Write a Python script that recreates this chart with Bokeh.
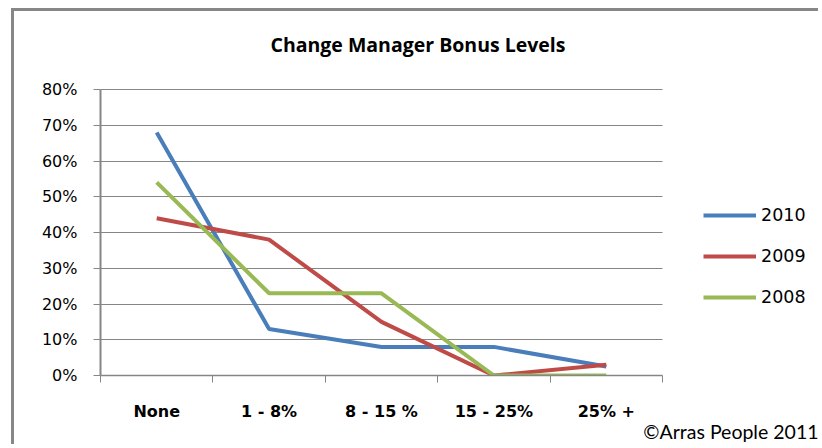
from bokeh.plotting import figure
from bokeh.models import (FixedTicker, NumeralTickFormatter, Legend, LegendItem, Title, Label,
                          ColumnDataSource, BoxAnnotation)
from bokeh.embed import file_html
from bokeh.resources import INLINE

categories = ["None", "1 - 8%", "8 - 15 %", "15 - 25%", "25% +"]
years = ["2010", "2009", "2008"]
y2010 = [0.68, 0.13, 0.08, 0.08, 0.025]
y2009 = [0.44, 0.38, 0.15, 0.0, 0.03]
y2008 = [0.54, 0.23, 0.23, 0.0, 0.0]
y_ticks = [0.0, 0.1, 0.2, 0.3, 0.4, 0.5, 0.6, 0.7, 0.8]
title_text = "Change Manager Bonus Levels"
credit_text = "\u00a9Arras People 2011"

colors = ["#4A7EBB", "#BE4B48", "#98B954"]
GRAY = "#868686"

# canvas starts at page (14, 11) after CSS margin + border
W, H = 807, 436
FL, PT, FB = 86, 78, 364       # plot-area left, top, bottom in canvas pixels
PLOT_W = 562                   # width of the drawn plot area
n = len(categories)
y_max = y_ticks[-1]
# the frame spans to the canvas right and top edges, so that title and legend are not clipped
x_end = -0.5 + n * (W - FL) / PLOT_W
y_end = y_max * FB / (FB - PT)

p = figure(width=W, height=H, output_backend="svg", toolbar_location=None,
           x_range=(-0.5, x_end), y_range=(0, y_end),
           min_border_left=FL, min_border_right=0, min_border_top=0,
           min_border_bottom=H - FB)
p.styles = {"margin-left": "11px", "margin-top": "8px",
            "border-left": "3px solid #878787", "border-top": "3px solid #878787"}
p.outline_line_color = None
p.background_fill_color = "white"
p.border_fill_color = "white"

p.xgrid.visible = False
p.ygrid.ticker = FixedTicker(ticks=y_ticks)
p.ygrid.grid_line_color = GRAY
p.ygrid.grid_line_width = 1

# blank out the grid to the right of the plot area
p.add_layout(BoxAnnotation(left=n - 0.5, fill_color="white", fill_alpha=1,
                           line_alpha=0, level="underlay"))

xs = list(range(n))
renderers = []
for yr, vals, c in zip(years, [y2010, y2009, y2008], colors):
    src = ColumnDataSource(dict(x=xs, y=vals))
    r = p.line("x", "y", source=src, line_color=c, line_width=4)
    renderers.append(r)

# title (screen units relative to frame bottom-left)
p.add_layout(Label(x=170, y=FB - 33, x_units="screen", y_units="screen", text=title_text,
                   text_align="left", text_baseline="middle", text_font="Open Sans",
                   text_font_style="bold", text_font_size="19.5px", text_color="black"))

# x axis
p.xaxis.bounds = (-0.5, n - 0.5)
p.xaxis.ticker = FixedTicker(ticks=xs, minor_ticks=[i - 0.5 for i in range(n + 1)])
p.xaxis.major_label_overrides = {i: c for i, c in enumerate(categories)}
p.xaxis.major_tick_out = 0
p.xaxis.major_tick_in = 0
p.xaxis.minor_tick_out = 7
p.xaxis.minor_tick_in = 0
p.xaxis.minor_tick_line_color = GRAY
p.xaxis.axis_line_color = GRAY
p.xaxis.axis_line_width = 1.5
p.xaxis.major_label_standoff = 19
p.xaxis.major_label_text_font = "DejaVu Sans"
p.xaxis.major_label_text_font_style = "bold"
p.xaxis.major_label_text_font_size = "16px"
p.xaxis.major_label_text_color = "black"

# y axis
p.yaxis.bounds = (0, y_max)
p.yaxis.ticker = FixedTicker(ticks=y_ticks, minor_ticks=[])
p.yaxis.formatter = NumeralTickFormatter(format="0%")
p.yaxis.major_tick_out = 7
p.yaxis.major_tick_in = 0
p.yaxis.minor_tick_out = 0
p.yaxis.major_tick_line_color = GRAY
p.yaxis.axis_line_color = GRAY
p.yaxis.axis_line_width = 2
p.yaxis.major_label_standoff = 16
p.yaxis.major_label_text_font = "DejaVu Sans"
p.yaxis.major_label_text_font_size = "16px"
p.yaxis.major_label_text_color = "black"

legend = Legend(items=[LegendItem(label=yr, renderers=[r]) for yr, r in zip(years, renderers)],
                location=(603, 68), orientation="vertical")
legend.glyph_width = 53
legend.glyph_height = 20
legend.label_height = 20
legend.spacing = 21
legend.padding = 0
legend.margin = 0
legend.label_standoff = 5
legend.border_line_color = None
legend.background_fill_alpha = 0
legend.label_text_font = "DejaVu Sans"
legend.label_text_font_size = "17.5px"
legend.label_text_color = "black"
p.add_layout(legend, "center")

credit = Title(text=credit_text, align="right", offset=3, standoff=-12,
               text_font="Lato", text_font_style="normal", text_font_size="19.5px",
               text_color="black")
p.add_layout(credit, "below")

open("out.html", "w").write(file_html(p, INLINE))
